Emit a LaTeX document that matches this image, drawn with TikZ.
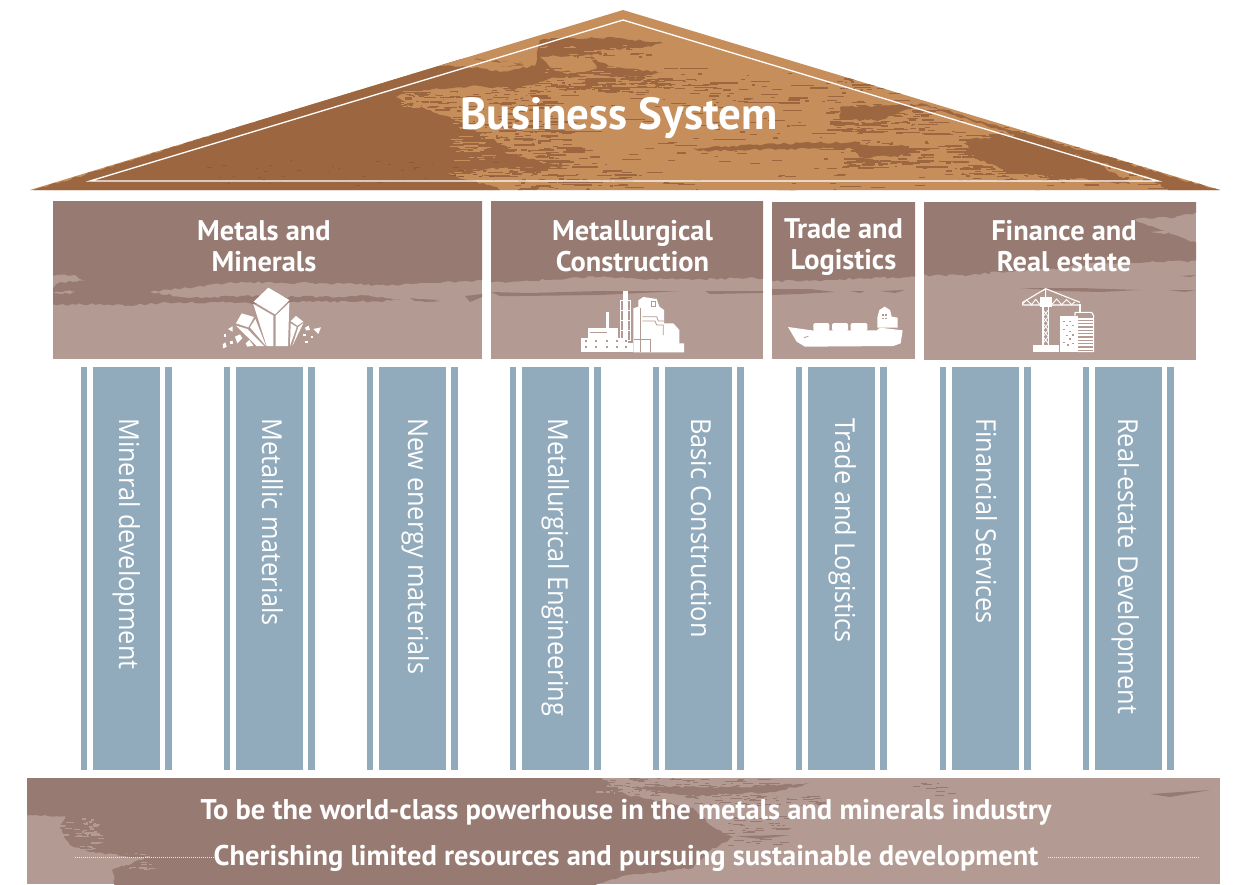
\documentclass[tikz,border=0pt]{standalone}
\usepackage{fontspec}
\usetikzlibrary{decorations.pathmorphing}
\setmainfont[FakeStretch=0.92]{Open Sans}
\newfontfamily\medbase{PT Sans}
\newcommand{\medfont}{\medbase\bfseries}
\definecolor{roofL}{HTML}{C68E5B}
\definecolor{roofD}{HTML}{9C6740}
\definecolor{bandD}{HTML}{977B73}
\definecolor{bandL}{HTML}{B39B93}
\definecolor{pillar}{HTML}{91ABBC}
\tikzset{
  pxgrid/.style={x=1pt,y=-1pt},
  pillarbar/.style={fill=pillar,draw=none},
  headtext/.style={text=white,font=\medfont\fontsize{28.4}{31}\selectfont,align=center,anchor=center,inner sep=0pt},
  columntext/.style={text=white,font=\fontsize{27.5}{30}\selectfont,rotate=-90,anchor=base west,inner sep=0pt},
  bandtext/.style={text=white,font=\medfont\fontsize{28.5}{30}\selectfont,anchor=center,inner sep=0pt},
  icon/.style={fill=white,draw=none},
  iconline/.style={draw=white,line width=1.1pt,fill=none},
  iconcut/.style={draw=bandL,line width=.8pt,fill=none},
  brush/.style={draw=none,decoration={random steps,segment length=4pt,amplitude=1.2pt},decorate}
}
\begin{document}
\begin{tikzpicture}[pxgrid]
\useasboundingbox (0,0) rectangle (1233,884);
\fill[white] (0,0) rectangle (1233,884);
\pgfmathsetseed{731}
% ---------- roof
\begin{scope}
\clip (623,10) -- (1220,190) -- (30,190) -- cycle;
\fill[roofL] (0,0) rectangle (1233,200);
\fill[roofD,brush] (20,195) -- (457,58) -- (530,64) -- (480,68) -- (500,72) -- (535,66) -- (540,40) -- (560,38) -- (620,38) -- (663,43) -- (640,48) -- (600,50) -- (590,56) -- (598,62) -- (615,68) -- (663,72) -- (640,77) -- (590,76) -- (551,78) -- (513,90) -- (480,86) -- (423,90) -- (393,97) -- (430,110) -- (463,123) -- (480,133) -- (513,150) -- (520,157) -- (563,167) -- (500,168) -- (447,173) -- (467,180) -- (497,187) -- (505,195) -- cycle;
\fill[roofL,brush] (440,63) -- (457,58) -- (530,64) -- (480,68) -- (440,66) -- cycle;
\fill[roofL,brush] (540,57) -- (590,55) -- (597,68) -- (580,72) -- (555,70) -- cycle;
\fill[roofD,brush] (920,103) -- (1000,127) -- (1225,192) -- (1170,192) -- (1150,178) -- (1000,130) -- cycle;
\fill[roofD,brush] (693,148) -- (800,143) -- (860,142) -- (860,148) -- (780,149) -- (700,151) -- cycle;
\fill[roofD,brush] (840,107) -- (925,104) -- (900,112) -- (880,120) -- (840,120) -- cycle;
\fill[roofD,brush] (850,145) -- (905,146) -- (910,155) -- (860,158) -- cycle;
\fill[roofD,brush] (965,140) -- (1030,135) -- (1100,165) -- (1130,184) -- (1010,172) -- (975,158) -- cycle;
% dense brush clouds
\foreach \rx/\ry/\rw/\rh/\rn in {
  825/108/105/25/90,
  840/140/85/28/80,
  945/130/110/50/140,
  1040/150/110/32/70,
  600/78/90/10/40,
  530/76/120/16/70,
  395/90/150/20/90,
  450/115/120/60/180,
  510/170/120/18/50,
  560/45/90/12/40,
  680/80/200/25/45,
  840/78/70/12/15}{
  \foreach \i in {1,...,\rn}{
    \pgfmathsetmacro{\xa}{rnd*\rw+\rx}
    \pgfmathsetmacro{\ya}{rnd*\rh+\ry}
    \pgfmathsetmacro{\la}{rnd*rnd*30+2}
    \pgfmathsetmacro{\ta}{rnd*1.2+.8}
    \fill[roofD] (\xa,\ya) rectangle ++(\la,\ta);
  }
}
% sparse streaks
\foreach \i in {1,...,330}{
  \pgfmathsetmacro{\xa}{rnd*720+480}
  \pgfmathsetmacro{\ya}{rnd*125+66}
  \pgfmathsetmacro{\la}{rnd*rnd*32+2}
  \fill[roofD] (\xa,\ya) rectangle ++(\la,1.1);
}
% light specks bitten into the dark side
\foreach \rx/\ry/\rw/\rh/\rn in {
  400/90/130/18/110,
  450/115/60/45/60,
  490/85/70/10/30,
  540/45/100/30/50}{
  \foreach \i in {1,...,\rn}{
    \pgfmathsetmacro{\xa}{rnd*\rw+\rx}
    \pgfmathsetmacro{\ya}{rnd*\rh+\ry}
    \pgfmathsetmacro{\la}{rnd*12+2}
    \fill[roofL] (\xa,\ya) rectangle ++(\la,1.1);
  }
}
\foreach \i in {1,...,45}{
  \pgfmathsetmacro{\xa}{rnd*300+200}
  \pgfmathsetmacro{\ya}{rnd*25+160}
  \pgfmathsetmacro{\la}{rnd*5+1}
  \fill[roofD!88!black] (\xa,\ya) rectangle ++(\la,1);
}
\end{scope}
\draw[white,line width=1.3pt,line join=miter] (623,20) -- (1158,181) -- (90,181) -- cycle;
\node[text=white,inner sep=0pt,font=\medfont\fontsize{45}{48}\selectfont] (roofTitle) at (619,118) {Business System};
% ---------- head blocks
% block 1
\fill[bandL] (53,201) rectangle (482,359);
\begin{scope}
\clip (53,201) rectangle (482,359);
\fill[bandD,brush] (45,195) -- (490,195) -- (490,280) -- (440,283) -- (380,285) -- (310,283) -- (250,282) -- (220,284) -- (195,287) -- (150,292) -- (190,298) -- (240,296) -- (300,297) -- (370,296) -- (400,300) -- (350,302) -- (310,301) -- (290,302) -- (270,304) -- (220,302) -- (160,303) -- (125,306) -- (100,304) -- (45,305) -- cycle;
\fill[bandL,brush] (53,276) -- (75,275) -- (85,281) -- (60,282) -- (53,288) -- cycle;
\fill[bandL,brush] (53,293) -- (75,291) -- (70,294) -- cycle;
\fill[bandD] (410,298) -- (440,302) -- (415,301) -- cycle;
\fill[bandD] (420,299) -- (440,300) -- (425,302) -- cycle;
\fill[bandD] (465,296) -- (482,294) -- (482,297) -- (470,302) -- cycle;
\end{scope}
% block 2
\fill[bandL] (491,201) rectangle (763,359);
\begin{scope}
\clip (491,201) rectangle (763,359);
\fill[bandD,brush] (485,195) -- (770,195) -- (770,278) -- (700,279) -- (640,279) -- (600,277) -- (570,278) -- (530,281) -- (485,283) -- cycle;
\fill[bandD] (491,292) -- (530,293) -- (600,291) -- (682,291) -- (600,295) -- (520,296) -- (500,296) -- cycle;
\fill[bandD] (705,291) -- (763,291) -- (763,293) -- (710,294) -- cycle;
\end{scope}
% block 3
\fill[bandL] (772,202) rectangle (915,359);
\begin{scope}
\clip (772,202) rectangle (915,359);
\fill[bandD,brush] (765,195) -- (920,195) -- (920,277) -- (860,278) -- (810,281) -- (765,281) -- cycle;
\fill[bandD] (772,289) -- (810,289) -- (835,292) -- (800,294) -- (772,295) -- cycle;
\fill[bandD] (850,291) -- (865,291) -- (860,293) -- cycle;
\fill[bandD] (880,291) -- (905,290) -- (895,293) -- cycle;
\end{scope}
% block 4
\fill[bandL] (924,202) rectangle (1196,360);
\begin{scope}
\clip (924,202) rectangle (1196,360);
\fill[bandD,brush] (918,196) -- (1200,196) -- (1200,212) -- (1170,218) -- (1130,218) -- (1145,224) -- (1175,235) -- (1200,244) -- (1200,261) -- (1150,262) -- (1100,263) -- (1060,268) -- (1000,272) -- (970,275) -- (918,276) -- cycle;
\fill[bandD] (1020,288) -- (1080,288) -- (1140,290) -- (1100,292) -- (1060,291) -- cycle;
\fill[bandD] (1168,290) -- (1196,290) -- (1185,292) -- cycle;
\fill[bandD] (1180,276) -- (1196,275) -- (1190,277) -- cycle;
\fill[bandL] (1150,232) -- (1175,230) -- (1165,234) -- cycle;
\end{scope}
\node[headtext] (headA) at (264,246) {Metals and\\Minerals};
\node[headtext] (headB) at (632.5,246) {Metallurgical\\Construction};
\node[headtext] (headC) at (843.5,247.5) {Trade and\\Logistics};
\node[headtext] (headD) at (1064,246) {Finance and\\Real estate};
% crystal icon
\begin{scope}[shift={(40,195)},scale=1/3]
\fill[icon] (641,320) -- (685,278) -- (748,315) -- (705,358) -- cycle;
\fill[icon] (640,327) -- (700,362) -- (700,453) -- (680,453) -- cycle;
\fill[icon] (707,362) -- (748,323) -- (744,453) -- (707,453) -- cycle;
\fill[icon] (588,385) -- (605,355) -- (642,366) -- (625,397) -- cycle;
\fill[icon] (588,392) -- (622,402) -- (672,453) -- (650,453) -- cycle;
\fill[icon] (630,397) -- (646,372) -- (678,453) -- cycle;
\fill[icon] (752,378) -- (768,363) -- (790,380) -- (772,392) -- cycle;
\fill[icon] (752,385) -- (770,396) -- (750,453) -- cycle;
\fill[icon] (775,396) -- (790,384) -- (757,453) -- cycle;
\fill[icon] (585,425) -- (600,418) -- (607,430) -- (592,445) -- cycle;
\fill[icon] (617,445) -- (628,435) -- (640,452) -- (622,455) -- cycle;
\fill[icon] (564,402) -- (578,394) -- (578,410) -- cycle;
\fill[icon] (548,448) -- (556,442) -- (560,455) -- (550,460) -- cycle;
\fill[icon] (570,438) rectangle (578,446);
\fill[icon] (552,418) rectangle (559,425);
\fill[icon] (820,402) -- (843,397) -- (835,417) -- cycle;
\fill[icon] (795,398) -- (806,392) -- (810,405) -- (798,406) -- cycle;
\fill[icon] (788,416) rectangle (797,423);
\fill[icon] (812,423) rectangle (820,430);
\fill[icon] (795,438) rectangle (803,445);
\end{scope}
% factory icon
\begin{scope}[shift={(480,195)},scale=1/3]
\fill[icon] (302,428) rectangle (445,472);
\fill[icon] (325,398) -- (415,398) -- (415,428) -- (325,428) -- cycle;
\fill[icon] (379,350) rectangle (388,398);
\fill[icon] (428,288) rectangle (443,318);
\draw[iconline,line width=.8pt] (420,316) rectangle (452,435);
\draw[iconline,line width=.8pt] (420,345) -- (452,345) (420,375) -- (452,375) (420,405) -- (452,405);
\fill[icon] (428,316) rectangle (443,432);
\fill[icon] (460,340) -- (475,335) -- (475,316) -- (490,306) -- (530,312) -- (538,335) -- (552,345) -- (552,385) -- (580,385) -- (598,405) -- (598,445) -- (612,445) -- (612,472) -- (460,472) -- cycle;
\fill[icon] (445,445) rectangle (460,472);
\draw[iconcut] (513,320) rectangle (527,335);
\draw[iconcut] (480,340) -- (480,472) (462,432) -- (510,432) -- (510,472);
\draw[iconcut] (487,365) -- (530,365) -- (535,378) -- (552,378);
\draw[iconcut] (487,378) -- (525,378) -- (530,390) -- (550,390) -- (550,420);
\draw[iconcut] (330,412) -- (380,412);
\foreach \cx in {318,347,380,412,438}{
  \fill[bandL] (\cx-3,436) rectangle (\cx+3,442);
  \fill[bandL] (\cx-3,454) rectangle (\cx+3,460);
}
\end{scope}
% ship icon
\begin{scope}[shift={(480,195)},scale=1/3]
\fill[icon] (924,396) -- (995,406) -- (1190,406) -- (1200,398) -- (1268,406) -- (1262,445) -- (1240,453) -- (975,455) -- (950,440) -- cycle;
\fill[icon,rounded corners=1.5pt] (1000,384) rectangle (1048,408);
\fill[icon,rounded corners=1.5pt] (1056,384) rectangle (1104,408);
\fill[icon,rounded corners=1.5pt] (1112,384) rectangle (1162,408);
\fill[icon] (1192,398) -- (1192,368) -- (1198,345) -- (1214,335) -- (1230,345) -- (1235,365) -- (1253,368) -- (1253,398) -- cycle;
\foreach \cx in {1206,1216}{
  \fill[bandL] (\cx,357) rectangle (\cx+6,362);
  \fill[bandL] (\cx,368) rectangle (\cx+6,373);
}
\draw[iconcut] (972,428) -- (985,424);
\end{scope}
% crane icon
\begin{scope}[shift={(915,195)},scale=1/3]
\draw[iconline] (323,322) -- (392,281) -- (495,322) (323,330) -- (495,330) (323,322) -- (323,330) (392,281) -- (392,312);
\draw[iconline,line width=.9pt] (323,326) -- (335,315) -- (350,329) -- (362,313) -- (375,329) (410,329) -- (425,312) -- (440,329) -- (455,314) -- (470,329) -- (480,320);
\fill[icon] (375,306) rectangle (410,336);
\draw[iconline] (384,336) -- (384,450) (400,336) -- (400,450);
\draw[iconline,line width=.9pt] (384,345) -- (400,365) -- (384,385) -- (400,405) -- (384,425) -- (400,445);
\draw[iconline,line width=.9pt] (400,345) -- (384,365) -- (400,385) -- (384,405) -- (400,425) -- (384,445);
\fill[icon] (353,450) rectangle (431,470);
\draw[iconline] (495,326) -- (495,350);
\fill[icon] (436,364) rectangle (488,470);
\draw[iconline] (480,352) -- (480,362) (480,352) -- (530,352) -- (536,362) -- (536,470) -- (488,470);
\foreach \yy in {368,378,388,398,408,418,428,438,448,458}{
  \fill[icon] (490,\yy) rectangle (534,\yy+6);
}
\foreach \xx/\yy in {445/378,462/378,452/390,470/390,445/402,462/408,470/418,452/420,445/440,462/430,470/444,455/448}{
  \fill[bandL] (\xx,\yy) rectangle (\xx+6,\yy+4);
}
\end{scope}
% ---------- pillars
\foreach \px in {0,143,286,429,572,715,859,1002}{
  \fill[pillarbar] (80.5+\px,367) rectangle (87+\px,770);
  \fill[pillarbar] (92.5+\px,367) rectangle (160+\px,770);
  \fill[pillarbar] (165+\px,367) rectangle (171.5+\px,770);
}
\node[columntext] (colA) at (119,418) {Mineral development};
\node[columntext] (colB) at (262,418) {Metallic materials};
\node[columntext] (colC) at (408,418) {New energy materials};
\node[columntext] (colD) at (548,418) {Metallurgical Engineering};
\node[columntext] (colE) at (691,418) {Basic Construction};
\node[columntext] (colF) at (835,418) {Trade and Logistics};
\node[columntext] (colG) at (976,418) {Financial Services};
\node[columntext] (colH) at (1118,418) {Real-estate Development};
% ---------- base band
\fill[bandL] (27,778) rectangle (1220,884);
\begin{scope}
\clip (27,778) rectangle (1220,884);
\fill[bandD,brush] (20,770) -- (590,770) -- (627,795) -- (693,808) -- (710,825) -- (733,837) -- (707,852) -- (693,868) -- (627,875) -- (593,886) -- (115,886) -- (112,870) -- (145,858) -- (90,852) -- (70,845) -- (60,830) -- (65,816) -- (20,816) -- cycle;
\fill[bandD,brush] (630,787) -- (730,787) -- (810,784) -- (770,792) -- (690,796) -- cycle;
\fill[bandD] (735,836) -- (790,835) -- (760,839) -- cycle;
\fill[bandD] (1150,794) -- (1210,790) -- (1170,797) -- cycle;
\foreach \rx/\ry/\rw/\rh/\rn in {
  580/778/190/18/110,
  680/795/140/10/50,
  715/815/70/30/50,
  900/780/50/16/10}{
  \foreach \i in {1,...,\rn}{
    \pgfmathsetmacro{\xa}{rnd*\rw+\rx}
    \pgfmathsetmacro{\ya}{rnd*\rh+\ry}
    \pgfmathsetmacro{\la}{rnd*12+1}
    \fill[bandD] (\xa,\ya) rectangle ++(\la,1);
  }
}
\foreach \rx/\ry/\rw/\rh/\rn in {
  27/817/45/14/30,
  70/818/25/18/26,
  50/830/50/22/30,
  85/852/65/18/40,
  590/785/60/8/20}{
  \foreach \i in {1,...,\rn}{
    \pgfmathsetmacro{\xa}{rnd*\rw+\rx}
    \pgfmathsetmacro{\ya}{rnd*\rh+\ry}
    \pgfmathsetmacro{\la}{rnd*7+1}
    \fill[bandL] (\xa,\ya) rectangle ++(\la,1.2);
  }
}
\end{scope}
\node[bandtext] (missionA) at (626,812) {To be the world-class powerhouse in the metals and minerals industry};
\node[bandtext] (missionB) at (626,858) {Cherishing limited resources and pursuing sustainable development};
\coordinate (dotAa) at (75,857.5);
\coordinate (dotBb) at (1200,857.5);
\draw[white,opacity=.8,line width=.8pt,dash pattern=on 1pt off 1pt] (dotAa) -- (missionB.west |- dotAa);
\draw[white,opacity=.8,line width=.8pt,dash pattern=on 1pt off 1pt] ([xshift=10pt]missionB.east |- dotBb) -- (dotBb);
\end{tikzpicture}
\end{document}
